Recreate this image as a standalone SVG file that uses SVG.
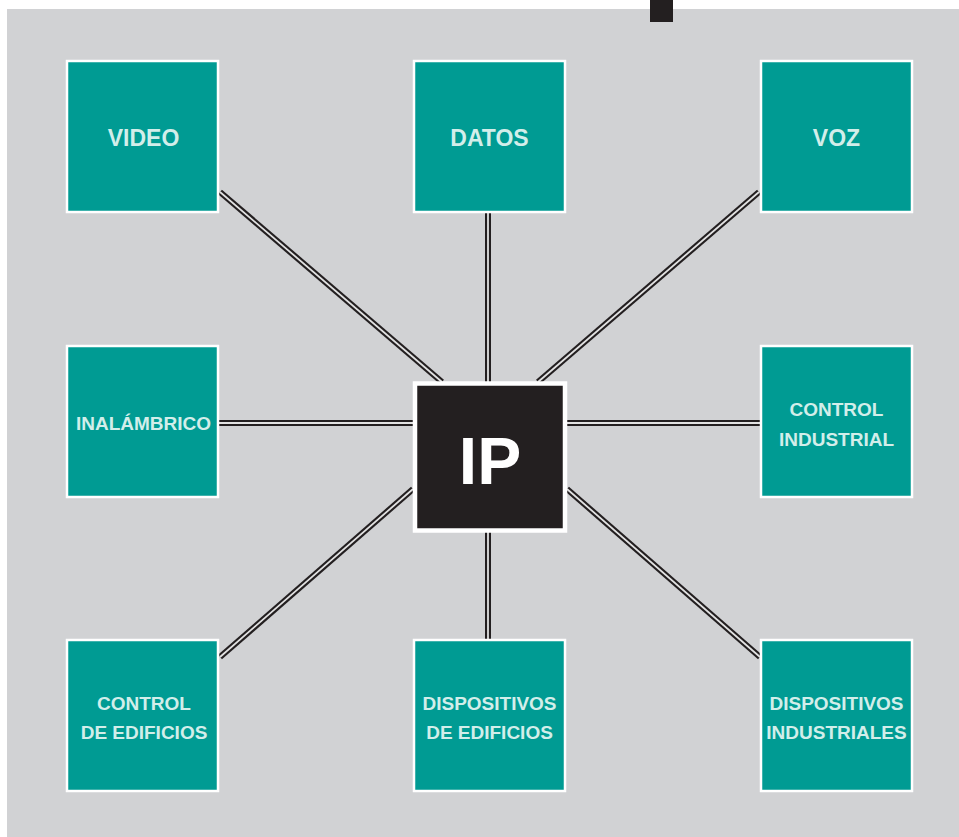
<svg xmlns="http://www.w3.org/2000/svg" width="959" height="837" viewBox="0 0 959 837">
<style>
.node rect{fill:#009b93;stroke:#ffffff;stroke-width:2.5}
.node text{fill:#d2eeea;font-family:"Liberation Sans",Arial,sans-serif;font-weight:bold;font-size:19px;text-anchor:middle}
.node text.big{font-size:23px}
.outer{stroke:#231f20;stroke-width:6;fill:none}
.inner{stroke:#e2e2e2;stroke-width:1.8;fill:none}
</style>
<rect x="0" y="0" width="959" height="837" fill="#ffffff"/>
<rect x="7" y="9" width="952" height="828" fill="#d1d2d4"/>
<rect x="650" y="0" width="23" height="22" fill="#231f20"/>
<g id="connectors">
<g class="outer">
<line x1="220" y1="192" x2="442" y2="382"/>
<line x1="488" y1="213" x2="488" y2="382"/>
<line x1="759" y1="192" x2="538" y2="382"/>
<line x1="219" y1="423" x2="413" y2="423"/>
<line x1="566" y1="423" x2="760" y2="423"/>
<line x1="220" y1="657" x2="413" y2="489"/>
<line x1="488" y1="532" x2="488" y2="639"/>
<line x1="567" y1="489" x2="760" y2="657"/>
</g>
<g class="inner">
<line x1="220" y1="192" x2="442" y2="382"/>
<line x1="488" y1="213" x2="488" y2="382"/>
<line x1="759" y1="192" x2="538" y2="382"/>
<line x1="219" y1="423" x2="413" y2="423"/>
<line x1="566" y1="423" x2="760" y2="423"/>
<line x1="220" y1="657" x2="413" y2="489"/>
<line x1="488" y1="532" x2="488" y2="639"/>
<line x1="567" y1="489" x2="760" y2="657"/>
</g>
</g>
<g id="video" class="node"><rect x="67" y="61" width="151" height="151"/><text class="big" x="143.5" y="146">VIDEO</text></g>
<g id="datos" class="node"><rect x="414" y="61" width="151" height="151"/><text class="big" x="489.5" y="146">DATOS</text></g>
<g id="voz" class="node"><rect x="761" y="61" width="151" height="151"/><text class="big" x="836.5" y="146">VOZ</text></g>
<g id="inalambrico" class="node"><rect x="67" y="346" width="151" height="151"/><text x="143.5" y="430">INALÁMBRICO</text></g>
<g id="control-industrial" class="node"><rect x="761" y="346" width="151" height="151"/><text x="836.5" y="416">CONTROL</text><text x="836.5" y="446">INDUSTRIAL</text></g>
<g id="control-edificios" class="node"><rect x="67" y="640" width="151" height="151"/><text x="144" y="710">CONTROL</text><text x="144" y="739">DE EDIFICIOS</text></g>
<g id="dispositivos-edificios" class="node"><rect x="414" y="640" width="151" height="151"/><text x="489.5" y="710">DISPOSITIVOS</text><text x="489.5" y="739">DE EDIFICIOS</text></g>
<g id="dispositivos-industriales" class="node"><rect x="761" y="640" width="151" height="151"/><text x="836.5" y="710">DISPOSITIVOS</text><text x="836.5" y="739">INDUSTRIALES</text></g>
<g id="ip"><rect x="415" y="383.5" width="150" height="147" fill="#231f20" stroke="#ffffff" stroke-width="4.5"/><text x="490" y="484" fill="#ffffff" font-family="Liberation Sans,Arial,sans-serif" font-weight="bold" font-size="66" text-anchor="middle">IP</text></g>
</svg>
